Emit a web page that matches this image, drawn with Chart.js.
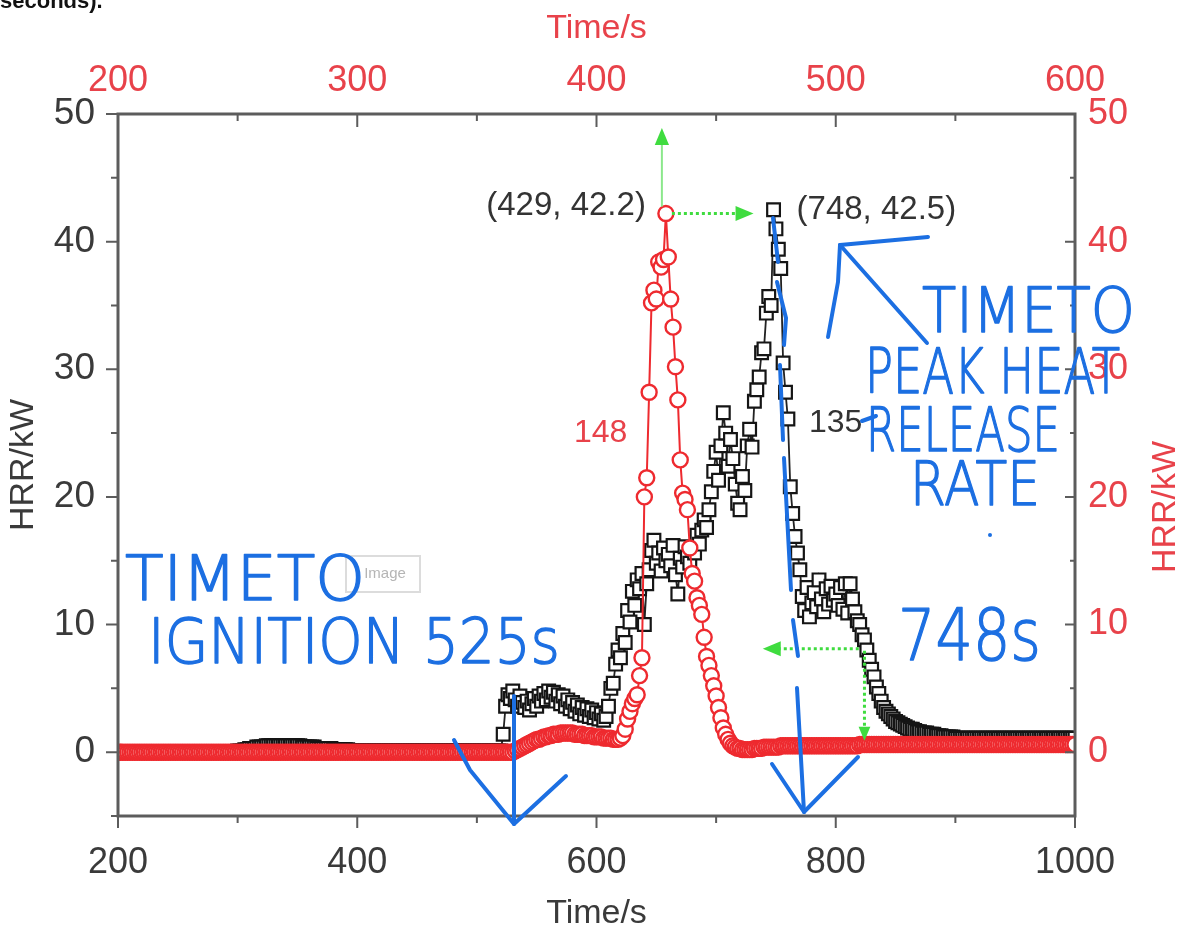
<!DOCTYPE html>
<html><head><meta charset="utf-8">
<script src="https://cdn.jsdelivr.net/npm/chart.js@4"></script>
<style>html,body{margin:0;padding:0;background:#fff;overflow:hidden}canvas{display:block}</style>
</head><body>
<canvas id="c" width="1185" height="934"></canvas>
<script>
// ---- data ----
// black squares: bottom Time/s axis, sampled every 2 s starting at 200 s
const blackStart = 200, blackStep = 2;
const blackHRR = [
 0,0,0,0,0,0,0,0,0,0,
 0,0,0,0,0,0,0,0,0,0,
 0,0,0,0,0,0,0,0,0,0,
 0,0,0,0,0,0,0,0,0,0,
 0,0,0,0,0,0,0,0,0,0,
 0.1,0.1,0.1,0.2,0.2,0.3,0.3,0.3,0.4,0.4,
 0.4,0.4,0.5,0.5,0.5,0.5,0.5,0.5,0.5,0.5,
 0.5,0.5,0.5,0.5,0.5,0.5,0.5,0.4,0.4,0.4,
 0.4,0.4,0.4,0.3,0.3,0.3,0.3,0.3,0.3,0.3,
 0.2,0.2,0.2,0.2,0.2,0.2,0.2,0.1,0.1,0.1,
 0.1,0.1,0.1,0.1,0.1,0.1,0.1,0.1,0.1,0.1,
 0.1,0.1,0.1,0.1,0.1,0.1,0.1,0.1,0.1,0.1,
 0.1,0.1,0.1,0.1,0.1,0.1,0.1,0.1,0.1,0.1,
 0.1,0.1,0.1,0.1,0.1,0.1,0.1,0.1,0.1,0.1,
 0.1,0.1,0.1,0.1,0.1,0.1,0.1,0.1,0.1,0.1,
 0.1,0.1,0.1,0.1,0.1,0.1,0.1,0.1,0.1,0.1,
 0.1,1.4,3.6,4.5,4.2,4.8,4.1,3.6,4.4,3.9,
 3.5,4.0,3.3,3.8,4.2,3.6,4.4,4.0,4.6,4.1,
 4.8,4.3,4.7,4.0,4.5,3.8,4.4,3.6,4.1,3.4,
 3.9,3.2,3.7,3.0,3.5,2.9,3.4,2.8,3.3,2.7,
 3.1,2.6,3.0,2.5,2.8,3.6,5.0,5.4,6.9,8.0,
 7.4,9.3,8.6,11.1,10.2,12.6,11.5,13.5,12.8,14.0,
 10.0,13.2,14.3,15.8,16.6,14.8,15.6,14.2,16.0,15.0,
 15.5,14.6,16.2,13.9,12.4,15.2,14.5,16.1,15.3,14.8,
 16.0,15.6,17.0,16.3,17.4,18.2,17.6,19.0,20.4,22.0,
 23.5,21.3,24.0,26.6,25.0,22.4,24.5,23.0,21.0,19.5,
 19.0,21.6,20.5,24.0,25.3,23.9,27.5,28.4,29.4,31.3,
 31.6,34.4,35.7,35.0,42.5,41.0,39.4,37.9,30.5,28.2,
 26.1,20.8,18.7,16.9,15.6,14.3,12.2,11.1,12.9,10.6,
 11.7,12.5,11.4,13.5,12.0,11.0,12.8,11.6,13.0,11.9,
 12.4,11.5,12.9,11.2,13.2,10.9,13.2,12.0,11.0,10.3,
 10.0,9.2,8.8,8.0,7.2,6.5,5.9,5.1,4.6,4.0,
 3.5,3.2,3.0,2.8,2.6,2.4,2.3,2.2,2.1,2.0,
 1.9,1.8,1.8,1.7,1.6,1.6,1.5,1.5,1.5,1.4,
 1.4,1.4,1.3,1.3,1.3,1.2,1.2,1.2,1.2,1.2,
 1.1,1.1,1.1,1.1,1.1,1.1,1.1,1.1,1.1,1.1,
 1.1,1.1,1.1,1.1,1.1,1.1,1.1,1.1,1.1,1.1,
 1.1,1.1,1.1,1.1,1.1,1.1,1.1,1.1,1.1,1.1,
 1.1,1.1,1.1,1.1,1.1,1.1,1.1,1.1,1.1,1.1,
 1.1,1.1,1.1,1.1,1.1,1.1,1.1,1.1,1.1,1.1,
 1.1
];
// red circles: top Time/s axis, sampled every 1 s starting at 200 s
const redStart = 200, redStep = 1;
const redHRR = [
 0,0,0,0,0,0,0,0,0,0,0,0,0,0,0,0,0,0,0,0,
 0,0,0,0,0,0,0,0,0,0,0,0,0,0,0,0,0,0,0,0,
 0,0,0,0,0,0,0,0,0,0,0,0,0,0,0,0,0,0,0,0,
 0,0,0,0,0,0,0,0,0,0,0,0,0,0,0,0,0,0,0,0,
 0,0,0,0,0,0,0,0,0,0,0,0,0,0,0,0,0,0,0,0,
 0,0,0,0,0,0,0,0,0,0,0,0,0,0,0,0,0,0,0,0,
 0,0,0,0,0,0,0,0,0,0,0,0,0,0,0,0,0,0,0,0,
 0,0,0,0,0,0,0,0,0,0,0,0,0,0,0,0,0,0,0,0,
 0,0,0,0,0,0,0.1,0.2,0.3,0.4,0.5,0.6,0.7,0.8,0.9,1.0,1.0,1.1,1.2,1.2,
 1.3,1.3,1.4,1.4,1.4,1.5,1.5,1.5,1.5,1.5,1.5,1.4,1.4,1.4,1.4,1.3,1.3,1.3,1.3,1.2,
 1.2,1.2,1.2,1.1,1.1,1.1,1.1,1.0,1.0,1.0,1.1,1.3,1.8,2.6,3.2,3.8,4.2,4.5,6.0,7.4,
 20.0,21.5,28.2,35.2,36.2,35.5,38.4,38.0,38.6,42.2,38.8,35.5,33.3,30.2,27.6,22.9,20.3,19.8,19.0,16.0,
 14.0,13.4,12.1,11.5,10.8,9.0,7.5,6.8,6.0,5.2,4.4,3.5,2.7,1.9,1.4,1.0,0.7,0.5,0.4,0.3,
 0.3,0.2,0.2,0.2,0.2,0.2,0.3,0.3,0.3,0.3,0.4,0.4,0.4,0.4,0.4,0.4,0.4,0.5,0.5,0.5,
 0.5,0.5,0.5,0.5,0.5,0.5,0.5,0.5,0.5,0.5,0.5,0.5,0.5,0.5,0.5,0.5,0.5,0.5,0.5,0.5,
 0.5,0.5,0.5,0.5,0.5,0.5,0.5,0.5,0.5,0.5,0.6,0.6,0.6,0.6,0.6,0.6,0.6,0.6,0.6,0.6,
 0.6,0.6,0.6,0.6,0.6,0.6,0.6,0.6,0.6,0.6,0.6,0.6,0.6,0.6,0.6,0.6,0.6,0.6,0.6,0.6,
 0.6,0.6,0.6,0.6,0.6,0.6,0.6,0.6,0.6,0.6,0.6,0.6,0.6,0.6,0.6,0.6,0.6,0.6,0.6,0.6,
 0.6,0.6,0.6,0.6,0.6,0.6,0.6,0.6,0.6,0.6,0.6,0.6,0.6,0.6,0.6,0.6,0.6,0.6,0.6,0.6,
 0.6,0.6,0.6,0.6,0.6,0.6,0.6,0.6,0.6,0.6,0.6,0.6,0.6,0.6,0.6,0.6,0.6,0.6,0.6,0.6,
 0.6
];
const bottomTicks = [200, 400, 600, 800, 1000];
const topTicks = [200, 300, 400, 500, 600];
const hrrTicks = [0, 10, 20, 30, 40, 50];
const redPeak = {t: 429, v: 42.2};
const blackPeak = {t: 748, v: 42.5};

// ---- styles ----
const RED = '#e8424a';
const GREY = '#3a3a3a';
const FONT = '"Liberation Sans", Arial, sans-serif';
const HAND = '"DejaVu Sans", "Liberation Sans", sans-serif';
const BLUE = '#1c6fe2';
const GREEN = '#3fdc3f';

const blackPts = blackHRR.map((v, i) => ({x: blackStart + i * blackStep, y: v}));
const redPts = redHRR.map((v, i) => ({x: redStart + i * redStep, y: v}));

function fixTicks(arr) { return s => { s.ticks = arr.map(v => ({value: v})); }; }
const plain = v => String(v);

const frame = {
  id: 'frame',
  afterDatasetsDraw(chart) {
    const {ctx, chartArea: {left, right, top, bottom}, scales} = chart;
    ctx.save();
    ctx.strokeStyle = '#5c5c5c';
    ctx.lineWidth = 3;
    ctx.strokeRect(left, top, right - left, bottom - top);
    ctx.lineWidth = 2;
    ctx.beginPath();
    for (let t = 200; t <= 1000; t += 100) {
      const px = scales.x.getPixelForValue(t), len = t % 200 === 0 ? 12 : 7;
      ctx.moveTo(px, bottom); ctx.lineTo(px, bottom + len);
    }
    for (let t = 200; t <= 600; t += 50) {
      const px = scales.x2.getPixelForValue(t), len = t % 100 === 0 ? 13 : 7;
      ctx.moveTo(px, top); ctx.lineTo(px, top + len);
    }
    for (let v = -5; v <= 50; v += 5) {
      const len = v % 10 === 0 ? 12 : 7;
      const py = scales.y.getPixelForValue(v);
      ctx.moveTo(left - len, py); ctx.lineTo(left, py);
      const py2 = scales.y2.getPixelForValue(v);
      ctx.moveTo(right - len + 2, py2); ctx.lineTo(right, py2);
    }
    ctx.stroke();
    ctx.restore();
  }
};

function arrowHead(ctx, x, y, ang, size, color) {
  ctx.save();
  ctx.translate(x, y); ctx.rotate(ang);
  ctx.beginPath(); ctx.moveTo(0, 0); ctx.lineTo(-size, -size * 0.42); ctx.lineTo(-size, size * 0.42); ctx.closePath();
  ctx.fillStyle = color; ctx.fill();
  ctx.restore();
}
function fitText(ctx, text, x, y, w, size, color) {
  ctx.save();
  ctx.font = '200 ' + size + 'px ' + HAND;
  const m = ctx.measureText(text).width;
  ctx.translate(x, y); ctx.scale(w / m, 1);
  ctx.fillStyle = color; ctx.strokeStyle = color; ctx.lineWidth = 1.4; ctx.lineJoin = 'round';
  ctx.textAlign = 'left'; ctx.textBaseline = 'alphabetic';
  ctx.fillText(text, 0, 0);
  ctx.strokeText(text, 0, 0);
  ctx.restore();
}
function poly(ctx, pts) {
  ctx.beginPath(); ctx.moveTo(pts[0][0], pts[0][1]);
  for (let i = 1; i < pts.length; i++) ctx.lineTo(pts[i][0], pts[i][1]);
  ctx.stroke();
}

const notes = {
  id: 'notes',
  afterDraw(chart) {
    const {ctx, scales: {x, x2, y, y2}} = chart;
    ctx.save();
    // cut caption at top-left
    ctx.fillStyle = '#111'; ctx.font = 'bold 22px ' + FONT; ctx.textAlign = 'left'; ctx.textBaseline = 'alphabetic';
    ctx.fillText('seconds).', 0, 8);
    // right axis title (reads bottom to top)
    ctx.save(); ctx.translate(1166, 507); ctx.rotate(-Math.PI / 2);
    ctx.fillStyle = RED; ctx.font = '34px ' + FONT; ctx.textAlign = 'center'; ctx.textBaseline = 'middle';
    ctx.fillText('HRR/kW', 0, 0); ctx.restore();

    // faint "Image" box
    ctx.strokeStyle = '#dcdcdc'; ctx.lineWidth = 2; ctx.strokeRect(346, 556, 74, 36);
    ctx.fillStyle = '#b5b5b5'; ctx.font = '15px ' + FONT; ctx.textAlign = 'center'; ctx.textBaseline = 'middle';
    ctx.fillText('Image', 385, 574);

    // green arrows
    const rx = x2.getPixelForValue(redPeak.t), ry = y2.getPixelForValue(redPeak.v);
    const bx = x.getPixelForValue(blackPeak.t), by = y.getPixelForValue(blackPeak.v);
    ctx.strokeStyle = '#8be88b'; ctx.lineWidth = 2; ctx.setLineDash([]);
    poly(ctx, [[rx - 4, ry - 7], [rx - 4, 140]]);
    arrowHead(ctx, rx - 4, 128, -Math.PI / 2, 17, GREEN);
    ctx.strokeStyle = GREEN; ctx.lineWidth = 3; ctx.setLineDash([3, 3]);
    poly(ctx, [[rx + 6, ry], [bx - 36, ry]]);
    ctx.setLineDash([]);
    arrowHead(ctx, bx - 20, ry, 0, 18, GREEN);
    const ly = y.getPixelForValue(8.1), lx1 = x.getPixelForValue(739), lx2 = x.getPixelForValue(824);
    ctx.setLineDash([3, 3]);
    poly(ctx, [[lx1 + 15, ly], [lx2 - 3, ly]]);
    poly(ctx, [[lx2, ly + 2], [lx2, y.getPixelForValue(1.6)]]);
    ctx.setLineDash([]);
    arrowHead(ctx, lx1, ly, Math.PI, 18, GREEN);
    arrowHead(ctx, lx2, y.getPixelForValue(0.9), Math.PI / 2, 14, GREEN);

    // point labels
    ctx.font = '33px ' + FONT; ctx.fillStyle = '#333'; ctx.textBaseline = 'middle';
    ctx.textAlign = 'right'; ctx.fillText('(' + redPeak.t + ', ' + redPeak.v + ')', rx - 20, ry - 8);
    ctx.textAlign = 'left'; ctx.fillText('(' + blackPeak.t + ', ' + blackPeak.v + ')', bx + 23, by);
    ctx.font = '32px ' + FONT;
    ctx.fillStyle = RED; ctx.textAlign = 'left'; ctx.fillText('148', 574, 433);
    ctx.fillStyle = '#333'; ctx.fillText('135', 809, 423);

    // blue handwriting
    fitText(ctx, 'TIMETO', 125, 600, 240, 62, BLUE);
    fitText(ctx, 'IGNITION 525s', 148, 663, 412, 62, BLUE);
    fitText(ctx, 'TIMETO', 922, 332, 213, 62, BLUE);
    fitText(ctx, 'PEAK HEAT', 865, 393, 255, 62, BLUE);
    fitText(ctx, 'RELEASE', 866, 451, 194, 60, BLUE);
    fitText(ctx, 'RATE', 910, 505, 130, 60, BLUE);
    fitText(ctx, '748s', 898, 660, 143, 72, BLUE);
    ctx.strokeStyle = BLUE; ctx.lineWidth = 4; ctx.lineCap = 'round'; ctx.lineJoin = 'round';
    // ignition arrow
    poly(ctx, [[514, 696], [514, 824]]);
    poly(ctx, [[454, 740], [470, 770], [514, 824], [566, 776]]);
    // peak-time arrow (broken stroke)
    poly(ctx, [[773, 218], [778, 262]]);
    poly(ctx, [[777, 282], [786, 318], [784, 345]]);
    poly(ctx, [[780, 365], [783, 440]]);
    poly(ctx, [[784, 458], [791, 590]]);
    poly(ctx, [[793, 620], [798, 656]]);
    poly(ctx, [[797, 688], [804, 812]]);
    poly(ctx, [[772, 764], [804, 812], [858, 757]]);
    // pointer to (748, 42.5)
    poly(ctx, [[928, 237], [840, 245]]);
    poly(ctx, [[840, 245], [838, 282], [828, 337]]);
    poly(ctx, [[840, 245], [927, 343]]);
    poly(ctx, [[862, 421], [876, 416]]);
    ctx.fillStyle = BLUE; ctx.beginPath(); ctx.arc(990, 535, 2, 0, Math.PI * 2); ctx.fill();
    ctx.restore();
  }
};

new Chart(document.getElementById('c'), {
  type: 'line',
  data: {
    datasets: [
      {
        label: 'HRR (red)', data: redPts, xAxisID: 'x2', yAxisID: 'y2', order: 1,
        borderColor: '#ee2a2f', borderWidth: 2,
        pointStyle: 'circle', pointRadius: 7.5, pointBorderWidth: 2.4,
        pointBorderColor: '#ee2a2f', pointBackgroundColor: '#ffffff',
        tension: 0
      },
      {
        label: 'HRR (black)', data: blackPts, xAxisID: 'x', yAxisID: 'y', order: 2,
        borderColor: '#222222', borderWidth: 1.8,
        pointStyle: 'rect', pointRadius: 9, pointBorderWidth: 2.2,
        pointBorderColor: '#151515', pointBackgroundColor: '#ffffff',
        tension: 0
      }
    ]
  },
  options: {
    responsive: false, animation: false, devicePixelRatio: 1,
    layout: {padding: 0},
    plugins: {legend: {display: false}, tooltip: {enabled: false}},
    scales: {
      x: {
        type: 'linear', position: 'bottom', min: 200, max: 1000,
        afterBuildTicks: fixTicks(bottomTicks), afterFit: s => { s.height = 118; },
        grid: {display: false, drawTicks: false}, border: {display: false},
        ticks: {color: GREY, font: {size: 36, family: FONT}, padding: 25, maxRotation: 0, autoSkip: false, callback: plain},
        title: {display: true, text: 'Time/s', color: GREY, font: {size: 34, family: FONT}, padding: {top: 0, bottom: 0}}
      },
      x2: {
        type: 'linear', position: 'top', min: 200, max: 600,
        afterBuildTicks: fixTicks(topTicks), afterFit: s => { s.height = 114; },
        grid: {display: false, drawTicks: false}, border: {display: false},
        ticks: {color: RED, font: {size: 36, family: FONT}, padding: 11, maxRotation: 0, autoSkip: false, callback: plain},
        title: {display: true, text: 'Time/s', color: RED, font: {size: 34, family: FONT}, padding: {top: 8, bottom: 0}}
      },
      y: {
        type: 'linear', position: 'left', min: -5, max: 50,
        afterBuildTicks: fixTicks(hrrTicks), afterFit: s => { s.width = 118; },
        grid: {display: false, drawTicks: false}, border: {display: false},
        ticks: {color: GREY, font: {size: 37, family: FONT}, padding: 23, autoSkip: false, callback: plain},
        title: {display: true, text: 'HRR/kW', color: GREY, font: {size: 34, family: FONT}, padding: {top: 3, bottom: 0}}
      },
      y2: {
        type: 'linear', position: 'right', min: -5, max: 50,
        afterBuildTicks: fixTicks(hrrTicks), afterFit: s => { s.width = 110; },
        grid: {display: false, drawTicks: false}, border: {display: false},
        ticks: {color: RED, font: {size: 36, family: FONT}, padding: 13, autoSkip: false, callback: plain},
        title: {display: false}
      }
    }
  },
  plugins: [frame, notes]
});
</script>
</body></html>
